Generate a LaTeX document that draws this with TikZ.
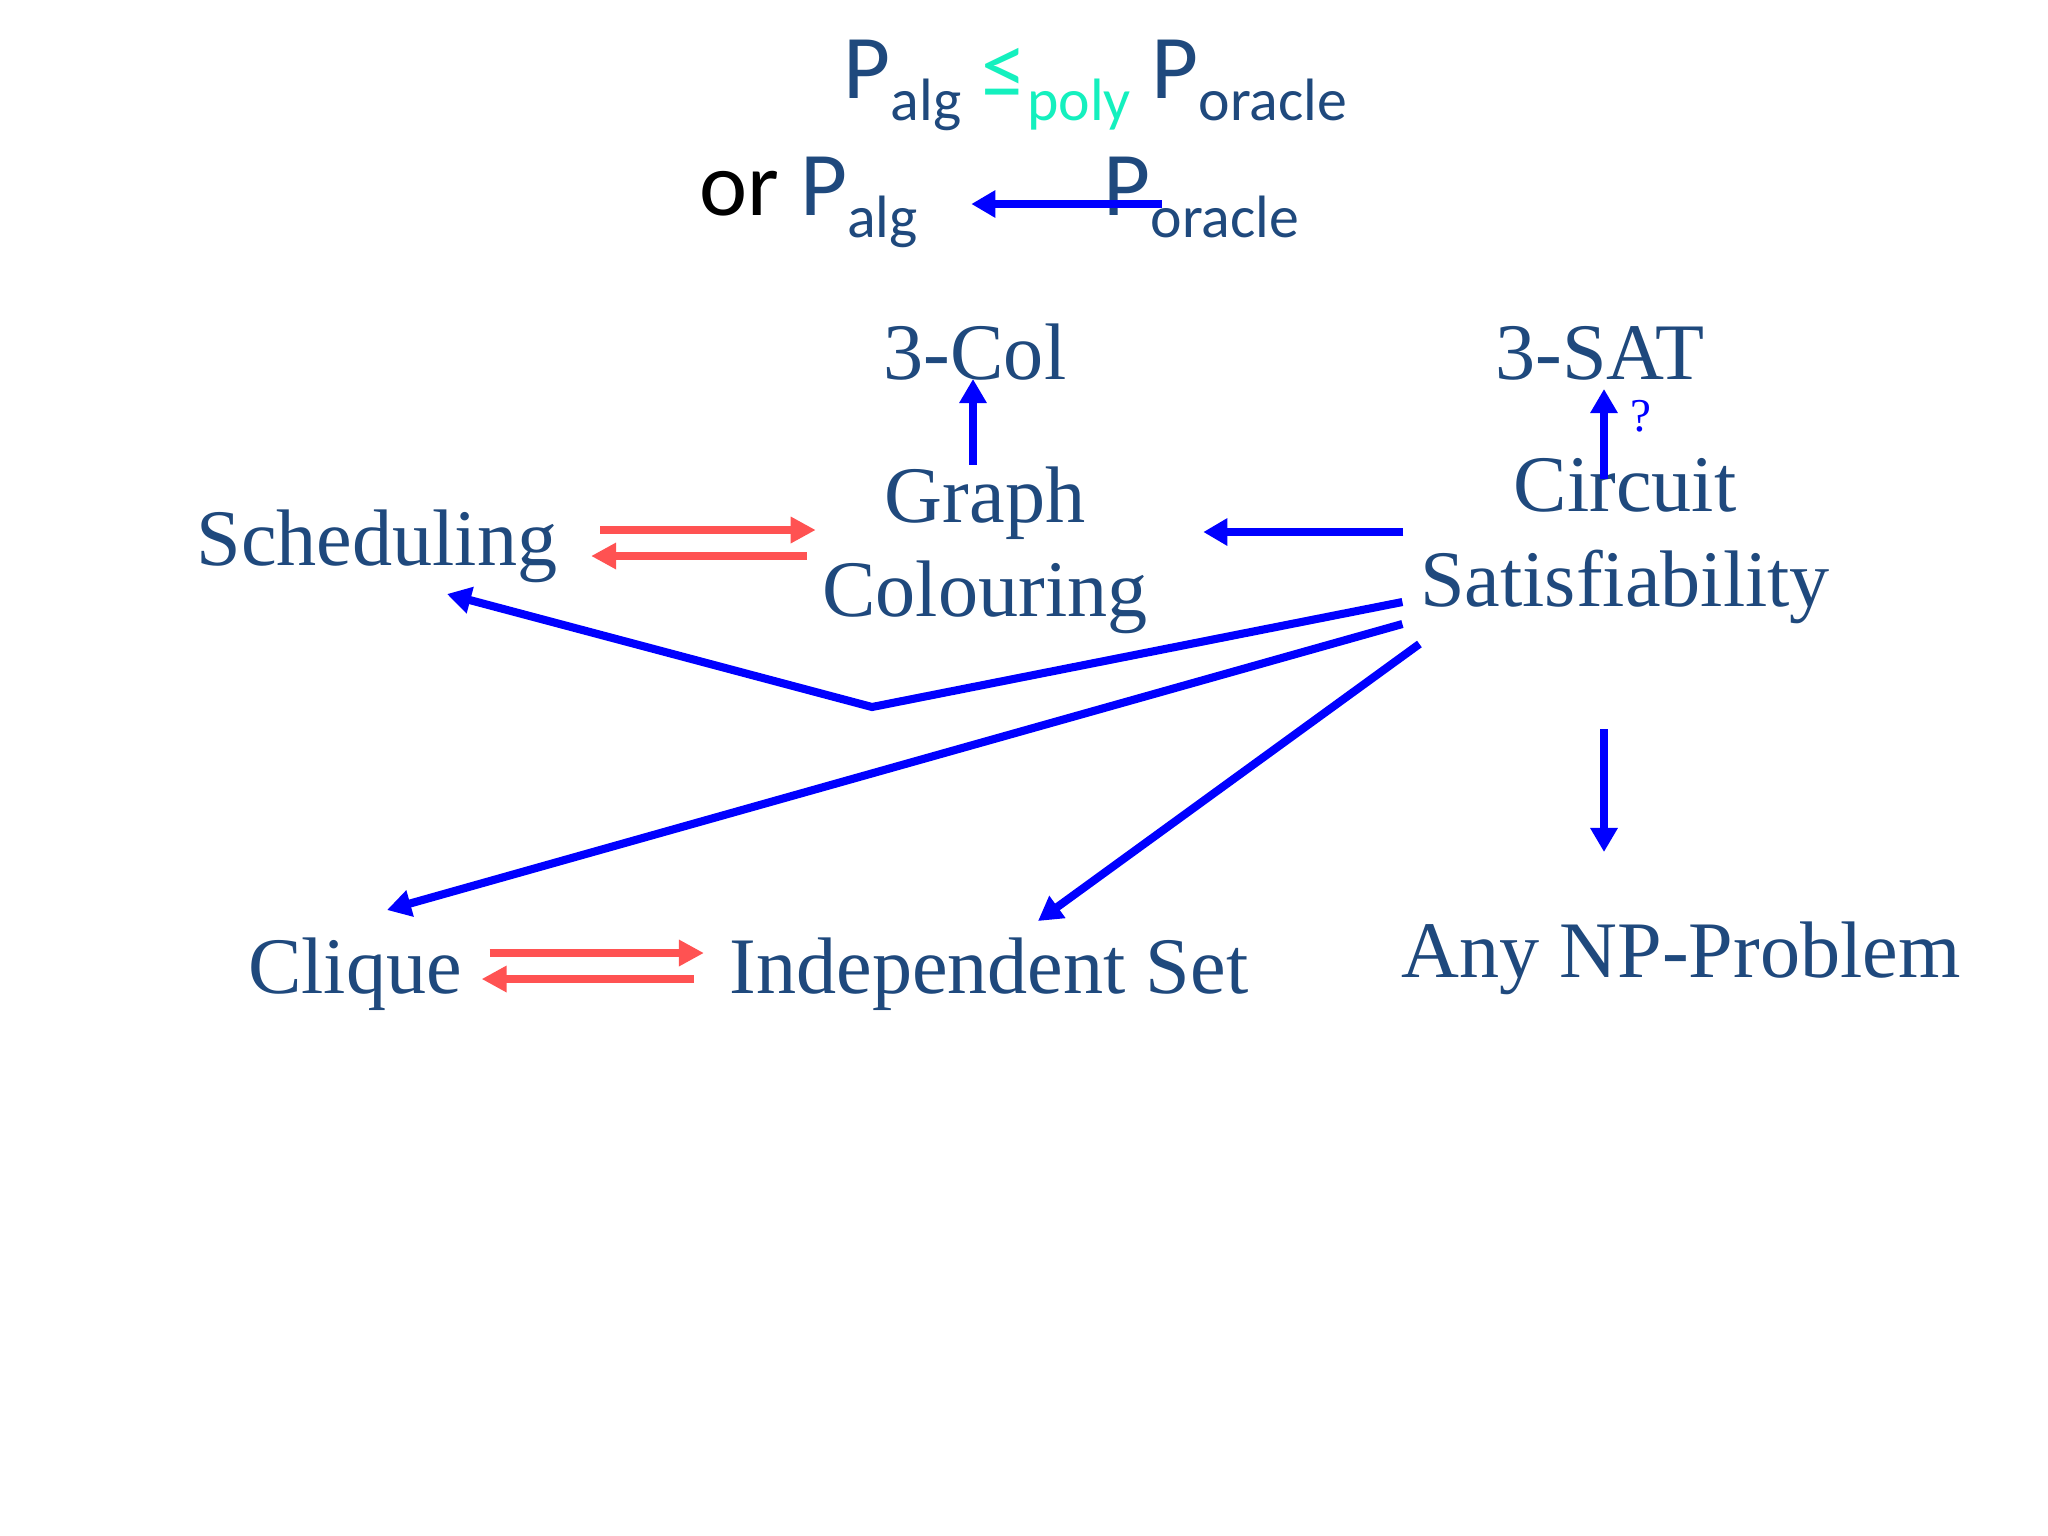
\documentclass[tikz,border=0pt]{standalone}
\usepackage{fontspec}
\setmainfont{Carlito}
\newfontfamily\probfont{Liberation Serif}
\usetikzlibrary{arrows.meta}
\definecolor{probblue}{RGB}{31,73,125}
\definecolor{polycyan}{RGB}{20,240,190}
\definecolor{equivred}{RGB}{255,82,82}
\newcommand{\lowsub}[1]{\raisebox{-0.22cm}{\fontsize{17}{20}\selectfont #1}}

\begin{document}
\begin{tikzpicture}[x=0.01cm, y=0.01cm,
    prob/.style={font={\probfont\fontsize{22.8}{26.8}\selectfont}, text=probblue, inner sep=0pt, align=center},
    hdr/.style={font={\fontsize{25.9}{30}\selectfont}, text=probblue, inner sep=0pt, anchor=base west},
    reduce/.style={draw=blue, line width=2.3pt, -{Triangle[length=0.24cm,width=0.26cm]}},
    equiv/.style={draw=equivred, line width=2.1pt, -{Triangle[length=0.25cm,width=0.25cm]}}]
    \useasboundingbox[fill=white] (0,0) rectangle (2048,-1536);

    \node (polyrel) [hdr] at (843,-98) {P\lowsub{alg} \textcolor{polycyan}{≤\lowsub{poly}} P\lowsub{oracle}};
    \node (orline) [hdr] at (699,-215) {\textcolor{black}{or} P\lowsub{alg}};
    \node (poracle) [hdr] at (1103,-215) {P\lowsub{oracle}};

    \node (col3) [prob, anchor=base] at (975,-379) {3-Col};
    \node (sat3) [prob, anchor=base] at (1600,-379) {3-SAT};
    \node (gcol) [prob] at (985,-550) {Graph\\Colouring};
    \node (csat) [prob] at (1625,-541) {Circuit\\Satisfiability};
    \node (sched) [prob, anchor=base] at (377,-565) {Scheduling};
    \node (clique) [prob, anchor=base] at (355,-993) {Clique};
    \node (indep) [prob, anchor=base] at (989,-993) {Independent Set};
    \node (anynp) [prob, anchor=base] at (1681,-977) {Any NP-Problem};
    \node (qmark) [font={\probfont\fontsize{13.4}{15}\selectfont}, text=blue, inner sep=0pt, anchor=base] at (1641,-431) {?};
    \coordinate (schedbend) at (872,-707);

    \draw[reduce] ([shift={(59,11)}]poracle.base west) -- ([shift={(53,11)}]orline.base east);

    \draw[reduce] ([shift={(-12,1)}]gcol.north) -- ([shift={(-2,0)}]col3.base);
    \draw[reduce] ([shift={(-21,-21)}]csat.north) -- ([shift={(4,-10)}]sat3.base);
    \draw[reduce] ([shift={(-16,9)}]csat.west) -- ([shift={(55,18)}]gcol.east);

    \draw[equiv] ([shift={(42,35)}]sched.base east) -- ([shift={(-6,20)}]gcol.west);
    \draw[equiv] ([shift={(-15,-6)}]gcol.west) -- ([shift={(33,9)}]sched.base east);
    \draw[equiv] ([shift={(27,40)}]clique.base east) -- ([shift={(-25,40)}]indep.base west);
    \draw[equiv] ([shift={(-35,14)}]indep.base west) -- ([shift={(19,14)}]clique.base east);

    \draw[reduce] ([shift={(-17,-61)}]csat.west) -- (schedbend) -- ([shift={(70,-29)}]sched.base);
    \draw[reduce] ([shift={(-17,-83)}]csat.west) -- ([shift={(32,83)}]clique.base);
    \draw[reduce] ([shift={(0,-103)}]csat.west) -- ([shift={(49,72)}]indep.base);
    \draw[reduce] ([shift={(-21,-105)}]csat.south) -- ([shift={(-77,125)}]anynp.base);
\end{tikzpicture}
\end{document}
